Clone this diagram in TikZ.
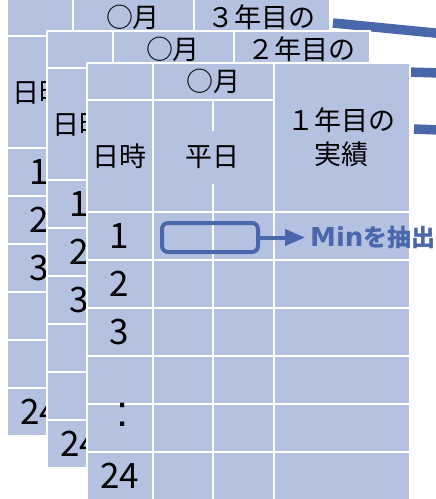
\documentclass[tikz,border=0pt]{standalone}
\usepackage{fontspec}
\setmainfont{Noto Sans CJK JP}
\newfontfamily\latinfam{DejaVu Sans}
\newfontfamily\cjkfam{Noto Sans CJK JP}
\newfontfamily\dotfam{Liberation Sans}
\usetikzlibrary{arrows.meta}
\definecolor{cellblue}{RGB}{180,193,224}
\definecolor{linkblue}{RGB}{74,103,172}
\newcommand\hdrfont{\fontsize{27}{34}\selectfont}
\newcommand\digfont{\fontsize{35}{38}\selectfont}
\tikzset{
  cell/.style={draw=white, line width=2pt, fill=cellblue, inner sep=0pt, font=\hdrfont, align=center},
  link/.style={draw=linkblue, line width=9.5pt},
}
\newcommand\cellnode[6]{\node[cell,minimum width={(#4-#2)*1pt},minimum height={(#5-#3)*1pt}] (#1) at ({(#2+#4)/2},{(#3+#5)/2}) {#6};}
% #1 dx, #2 dy, #3 prefix, #4 col4 text, #5 row labels
\newcommand\drawtable[5]{%
\begin{scope}[shift={(#1,#2)}]
 \cellnode{#3a}{86.5}{62.5}{152.5}{100}{}
 \cellnode{#3m}{152.5}{62.5}{273.5}{100}{○月}
 \cellnode{#3y}{273.5}{62.5}{409.5}{212}{#4}
 \cellnode{#3d}{86.5}{100}{152.5}{212}{日時}
 \cellnode{#3e}{152.5}{100}{212.5}{212}{}
 \cellnode{#3f}{212.5}{100}{273.5}{212}{}
 \foreach \r/\lab in {#5} {
   \pgfmathsetmacro\ya{212+48*\r}
   \pgfmathsetmacro\yb{260+48*\r}
   \cellnode{#3r\r-1}{86.5}{\ya}{152.5}{\yb}{\digfont\lab}
   \cellnode{#3r\r-2}{152.5}{\ya}{212.5}{\yb}{}
   \cellnode{#3r\r-3}{212.5}{\ya}{273.5}{\yb}{}
   \cellnode{#3r\r-4}{273.5}{\ya}{409.5}{\yb}{}
 }
\end{scope}}
\begin{document}
\begin{tikzpicture}[x=1pt,y=-1pt]
\fill[white] (0,0) rectangle (436,499);
\useasboundingbox (0,0) rectangle (436,499);
% back table (3rd year)
\drawtable{-80}{-64}{b}{}{0/1,1/2,2/3,3/{},4/{},5/24}
\node[font=\hdrfont, inner sep=0pt] (bt) at (261.5,17.25) {３年目の};
\coordinate (e1) at (440,33.5);
\draw[link] ([shift={(2.5,25.5)}]by.north east) -- (e1);
% middle table (2nd year)
\drawtable{-40}{-32}{m}{}{0/1,1/2,2/3,3/{},4/{},5/24}
\node[font=\hdrfont, inner sep=0pt] (mt) at (301.5,49.25) {２年目の};
\coordinate (e2) at (440,73);
\draw[link] ([shift={(2.5,41.5)}]my.north east) -- (e2);
% front table (1st year)
\drawtable{0}{0}{f}{１年目の\\実績}{0/1,1/2,2/3,3/{},4/{},5/24}
\node[fill=cellblue, inner xsep=2pt, inner ysep=0pt, minimum height=53pt, font=\hdrfont] (heijitsu) at (212.5,157.5) {平日};
\node[font=\dotfam\fontsize{44}{44}\selectfont, inner sep=0pt] (vdots) at (122.5,415) {:};
\coordinate (e3) at (440,130);
\draw[link] ([shift={(3.5,67.5)}]fy.north east) -- (e3);
% Min extraction
\node[draw=linkblue, line width=4pt, rounded corners=6pt, minimum width=96pt, minimum height=29pt, inner sep=0pt] (minbox) at (210,237.5) {};
\node[anchor=west, text=linkblue, inner xsep=5pt, inner ysep=0pt] (mintext) at (305,237.5)
  {{\fontsize{26}{30}\latinfam\bfseries Min}{\fontsize{24}{30}\cjkfam\bfseries を抽出}};
\draw[draw=linkblue, line width=4pt, -{Triangle[length=20pt,width=16pt]}] (minbox.east) -- (mintext.west);
\end{tikzpicture}
\end{document}
